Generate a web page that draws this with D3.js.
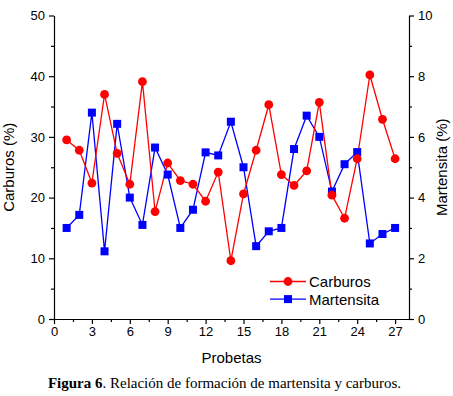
<!DOCTYPE html>
<html>
<head>
<meta charset="utf-8">
<script src="https://cdn.jsdelivr.net/npm/d3@7"></script>
<style>
  body { margin: 0; background: #fff; }
  svg { display: block; font-family: "Liberation Sans", Arial, sans-serif; }
  .axis text { font-size: 13px; fill: #000; }
  .axis path, .axis line { stroke: #000; stroke-width: 1.2; }
</style>
</head>
<body>
<div id="chart"></div>
<script>
// Probeta numbers
const probetas = d3.range(1, 28);
// Carburos (%) - left axis
const carburos = [29.5, 27.8, 22.4, 37.0, 27.3, 22.2, 39.1, 17.7, 25.7, 22.8,
	22.2, 19.4, 24.2, 9.6, 20.6, 27.8, 35.3, 23.8, 22.0, 24.4,
	35.7, 20.4, 16.6, 26.4, 40.2, 32.9, 26.4];
// Martensita (%) - right axis
const martensita = [3.0, 3.43, 6.8, 2.23, 6.43, 4.0, 3.1, 5.65, 4.76, 3.0,
	3.6, 5.49, 5.39, 6.5, 5.0, 2.4, 2.89, 3.0, 5.6, 6.7,
	6.0, 4.2, 5.1, 5.5, 2.49, 2.8, 3.0];
const xTicks = [0, 3, 6, 9, 12, 15, 18, 21, 24, 27];
const leftTicks = [0, 10, 20, 30, 40, 50];
const rightTicks = [0, 2, 4, 6, 8, 10];

const W = 453, H = 396;
const margin = {top: 15.5, right: 44, bottom: 77, left: 54};
const width = W - margin.left - margin.right;
const height = H - margin.top - margin.bottom;

const svg = d3.select("#chart").append("svg")
	.attr("width", W)
	.attr("height", H);

const g = svg.append("g")
	.attr("transform", "translate(" + margin.left + "," + margin.top + ")");

// Scales
const x = d3.scaleLinear().domain([0, 28.1]).range([0, width]);
const yL = d3.scaleLinear().domain([0, 50]).range([height, 0]);
const yR = d3.scaleLinear().domain([0, 10]).range([height, 0]);

// minor ticks first (short, no labels)
g.append("g").attr("class", "axis")
	.attr("transform", "translate(0," + height + ")")
	.call(d3.axisBottom(x).tickValues(d3.range(1.5, 28, 3)).tickSize(3).tickFormat(""))
	.select(".domain").remove();
g.append("g").attr("class", "axis")
	.call(d3.axisLeft(yL).tickValues(d3.range(5, 50, 10)).tickSize(3).tickFormat(""))
	.select(".domain").remove();
g.append("g").attr("class", "axis")
	.attr("transform", "translate(" + width + ",0)")
	.call(d3.axisRight(yR).tickValues(d3.range(1, 10, 2)).tickSize(3).tickFormat(""))
	.select(".domain").remove();

// major axes
g.append("g").attr("class", "axis")
	.attr("transform", "translate(0," + height + ")")
	.call(d3.axisBottom(x).tickValues(xTicks).tickSize(5).tickSizeOuter(0).tickPadding(3));
g.append("g").attr("class", "axis")
	.call(d3.axisLeft(yL).tickValues(leftTicks).tickSize(5).tickSizeOuter(0).tickPadding(4));
g.append("g").attr("class", "axis")
	.attr("transform", "translate(" + width + ",0)")
	.call(d3.axisRight(yR).tickValues(rightTicks).tickSize(5).tickSizeOuter(0).tickPadding(4));

// Lines
const redCol = "#ff0000", blueCol = "#0000ff";
const carbData = probetas.map((p, i) => ({p: p, v: carburos[i]}));
const martData = probetas.map((p, i) => ({p: p, v: martensita[i]}));

g.append("path").datum(martData)
	.attr("fill", "none").attr("stroke", blueCol).attr("stroke-width", 1.3)
	.attr("d", d3.line().x(d => x(d.p)).y(d => yR(d.v)));
g.append("path").datum(carbData)
	.attr("fill", "none").attr("stroke", redCol).attr("stroke-width", 1.3)
	.attr("d", d3.line().x(d => x(d.p)).y(d => yL(d.v)));

g.selectAll(".sq").data(martData).enter().append("rect")
	.attr("class", "sq")
	.attr("x", d => x(d.p) - 4).attr("y", d => yR(d.v) - 4)
	.attr("width", 8).attr("height", 8)
	.attr("fill", blueCol);
g.selectAll(".dot").data(carbData).enter().append("circle")
	.attr("class", "dot")
	.attr("cx", d => x(d.p)).attr("cy", d => yL(d.v))
	.attr("r", 4.4)
	.attr("fill", redCol);

// Legend
const leg = g.append("g").attr("transform", "translate(216,266)");
const legItems = [{name: "Carburos", col: redCol, shape: "circle"},
	{name: "Martensita", col: blueCol, shape: "square"}];
legItems.forEach((it, i) => {
	const row = leg.append("g").attr("transform", "translate(0," + (i * 17.6) + ")");
	row.append("line").attr("x1", 0).attr("x2", 36).attr("y1", 0).attr("y2", 0)
		.attr("stroke", it.col).attr("stroke-width", 1.3);
	if (it.shape === "circle") {
		row.append("circle").attr("cx", 18).attr("cy", 0).attr("r", 4.4).attr("fill", it.col);
	} else {
		row.append("rect").attr("x", 14).attr("y", -4).attr("width", 8).attr("height", 8).attr("fill", it.col);
	}
	row.append("text").attr("x", 39).attr("y", 5.5)
		.style("font-size", "15px").text(it.name);
});

// Axis titles
svg.append("text")
	.attr("x", margin.left + width / 2).attr("y", 363)
	.attr("text-anchor", "middle").style("font-size", "15px")
	.text("Probetas");
svg.append("text")
	.attr("transform", "translate(14," + (margin.top + height / 2) + ") rotate(-90)")
	.attr("text-anchor", "middle").style("font-size", "15px")
	.text("Carburos (%)");
svg.append("text")
	.attr("transform", "translate(447," + (margin.top + height / 2) + ") rotate(-90)")
	.attr("text-anchor", "middle").style("font-size", "15px")
	.text("Martensita (%)");

// Caption
const cap = svg.append("text")
	.attr("x", 224.5).attr("y", 388)
	.attr("text-anchor", "middle")
	.style("font-family", "'Liberation Serif', 'Times New Roman', serif")
	.style("font-size", "15px");
cap.append("tspan").style("font-weight", "bold").text("Figura 6");
cap.append("tspan").text(". Relación de formación de martensita y carburos.");
</script>
</body>
</html>
